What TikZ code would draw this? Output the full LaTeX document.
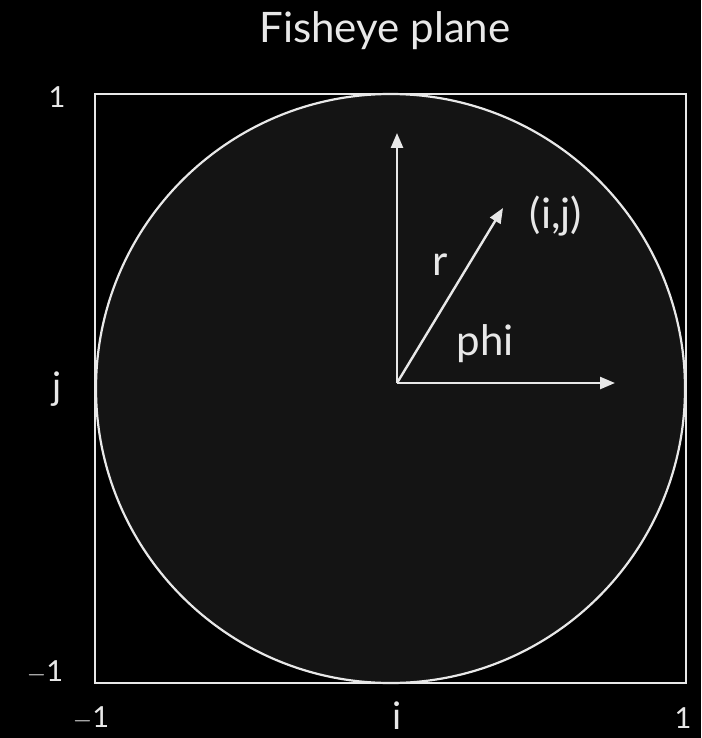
\documentclass[tikz,border=0pt]{standalone}
\usepackage{fontspec}
\setmainfont{Lato}
\usetikzlibrary{arrows.meta}
\definecolor{fg}{HTML}{E8E8E8}
\definecolor{disk}{HTML}{141414}
\tikzset{
  lbl/.style={text=fg, font=\fontsize{29}{30}\selectfont, inner sep=0pt},
  letter/.style={text=fg, font=\fontsize{38}{40}\selectfont, inner sep=0pt},
  big/.style={text=fg, font=\fontsize{42}{44}\selectfont, inner sep=0pt},
  vec/.style={draw=fg, line width=2.4pt, -{Triangle[length=15pt,width=12pt]}},
  frame/.style={draw=fg, line width=2.2pt}
}
\begin{document}
\begin{tikzpicture}[x=1pt,y=-1pt]
\fill[black] (0,0) rectangle (701,738);
\useasboundingbox (0,0) rectangle (701,738);
% disk and frame
\fill[disk] (390.5,388.5) circle (294.5);
\draw[frame] (390.5,388.5) circle (294.5);
\draw[frame] (95,94) rectangle (686,683);
% title
\node[big] (title) at (385,31) {Fisheye plane};
% axis labels
\node[lbl] (ytop) at (57,97) {1};
\node[lbl] (ybot) at (45,672) {$-$1};
\node[letter] (ylab) at (57,389) {j};
\node[lbl] (xleft) at (91,718) {$-$1};
\node[letter] (xlab) at (397,716) {i};
\node[lbl] (xright) at (683,718) {1};
% vectors
\coordinate (o) at (397,383);
\coordinate (up) at (397,133);
\coordinate (rt) at (615,383);
\coordinate (pt) at (503,208);
\draw[vec] (o) -- (up);
\draw[vec] (o) -- (rt);
\draw[vec] (o) -- (pt);
\node[big] (ij) at (556,216) {(i,j)};
\node[big] (r) at (440,265) {r};
\node[big] (phi) at (485,344) {phi};
\end{tikzpicture}
\end{document}
